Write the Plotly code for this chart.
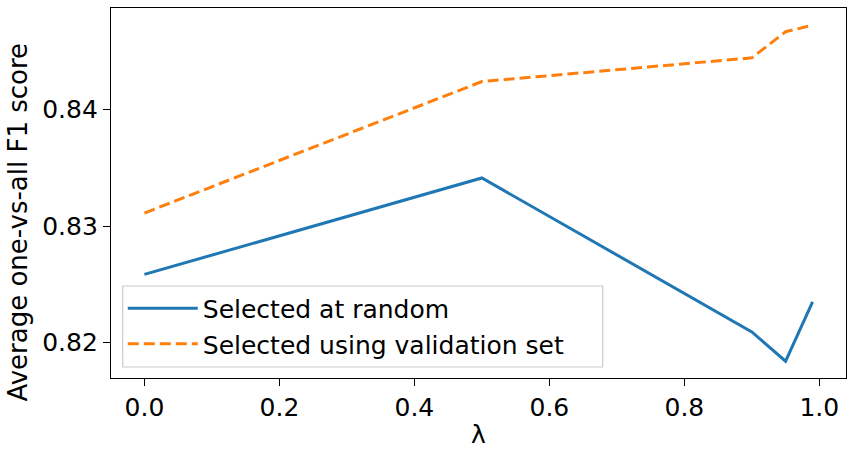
import plotly.graph_objects as go

lambdas = [0.0, 0.5, 0.9, 0.95, 0.99]
random_f1 = [0.82585, 0.83413, 0.82091, 0.81839, 0.82349]
validation_f1 = [0.83112, 0.84241, 0.84445, 0.84669, 0.84725]
series_names = ["Selected at random", "Selected using validation set"]
x_ticks = [0.0, 0.2, 0.4, 0.6, 0.8, 1.0]
y_ticks = [0.82, 0.83, 0.84]
y_title = "Average one-vs-all F1 score"

FONT = "DejaVu Sans"
FS = 25
fig = go.Figure()
fig.add_trace(go.Scatter(x=lambdas, y=random_f1, mode="lines", name=series_names[0],
                         line=dict(color="#1f77b4", width=3)))
fig.add_trace(go.Scatter(x=lambdas, y=validation_f1, mode="lines", name=series_names[1],
                         line=dict(color="#ff7f0e", width=3, dash="11px,5px")))

fig.add_annotation(text=y_title, xref="paper", yref="paper", x=0, y=0.42,
                   xshift=-93, xanchor="center", yanchor="middle", textangle=-90,
                   showarrow=False, font=dict(family=FONT, size=26, color="black"))

# legend frame (matplotlib-style box)
fig.add_shape(type="rect", xref="paper", yref="paper", x0=0.0159, x1=0.669,
              y0=0.0297, y1=0.2486, layer="above",
              fillcolor="rgba(255,255,255,0.8)", line=dict(color="#cccccc", width=1.2))

fig.update_layout(
    width=855, height=454,
    margin=dict(l=111, r=9, t=8, b=76),
    paper_bgcolor="white", plot_bgcolor="white",
    font=dict(family=FONT, size=FS, color="black"),
    showlegend=True,
    legend=dict(x=0.016, y=0.25, xanchor="left", yanchor="top",
                bgcolor="rgba(0,0,0,0)", borderwidth=0,
                font=dict(family=FONT, size=FS, color="black"),
                itemwidth=70),
    xaxis=dict(range=[-0.0495, 1.0395], tickvals=x_ticks, tickformat=".1f",
               showgrid=False, zeroline=False, showline=True, mirror=True,
               linecolor="black", linewidth=1.3, ticks="outside", ticklen=7,
               tickcolor="black", tickwidth=1.3,
               title=dict(text="λ", standoff=4, font=dict(size=FS))),
    yaxis=dict(range=[0.81695, 0.84873], tickvals=y_ticks, tickformat=".2f",
               showgrid=False, zeroline=False, showline=True, mirror=True,
               linecolor="black", linewidth=1.3, ticks="outside", ticklen=7,
               tickcolor="black", tickwidth=1.3),
)
fig.write_html("out.html")
